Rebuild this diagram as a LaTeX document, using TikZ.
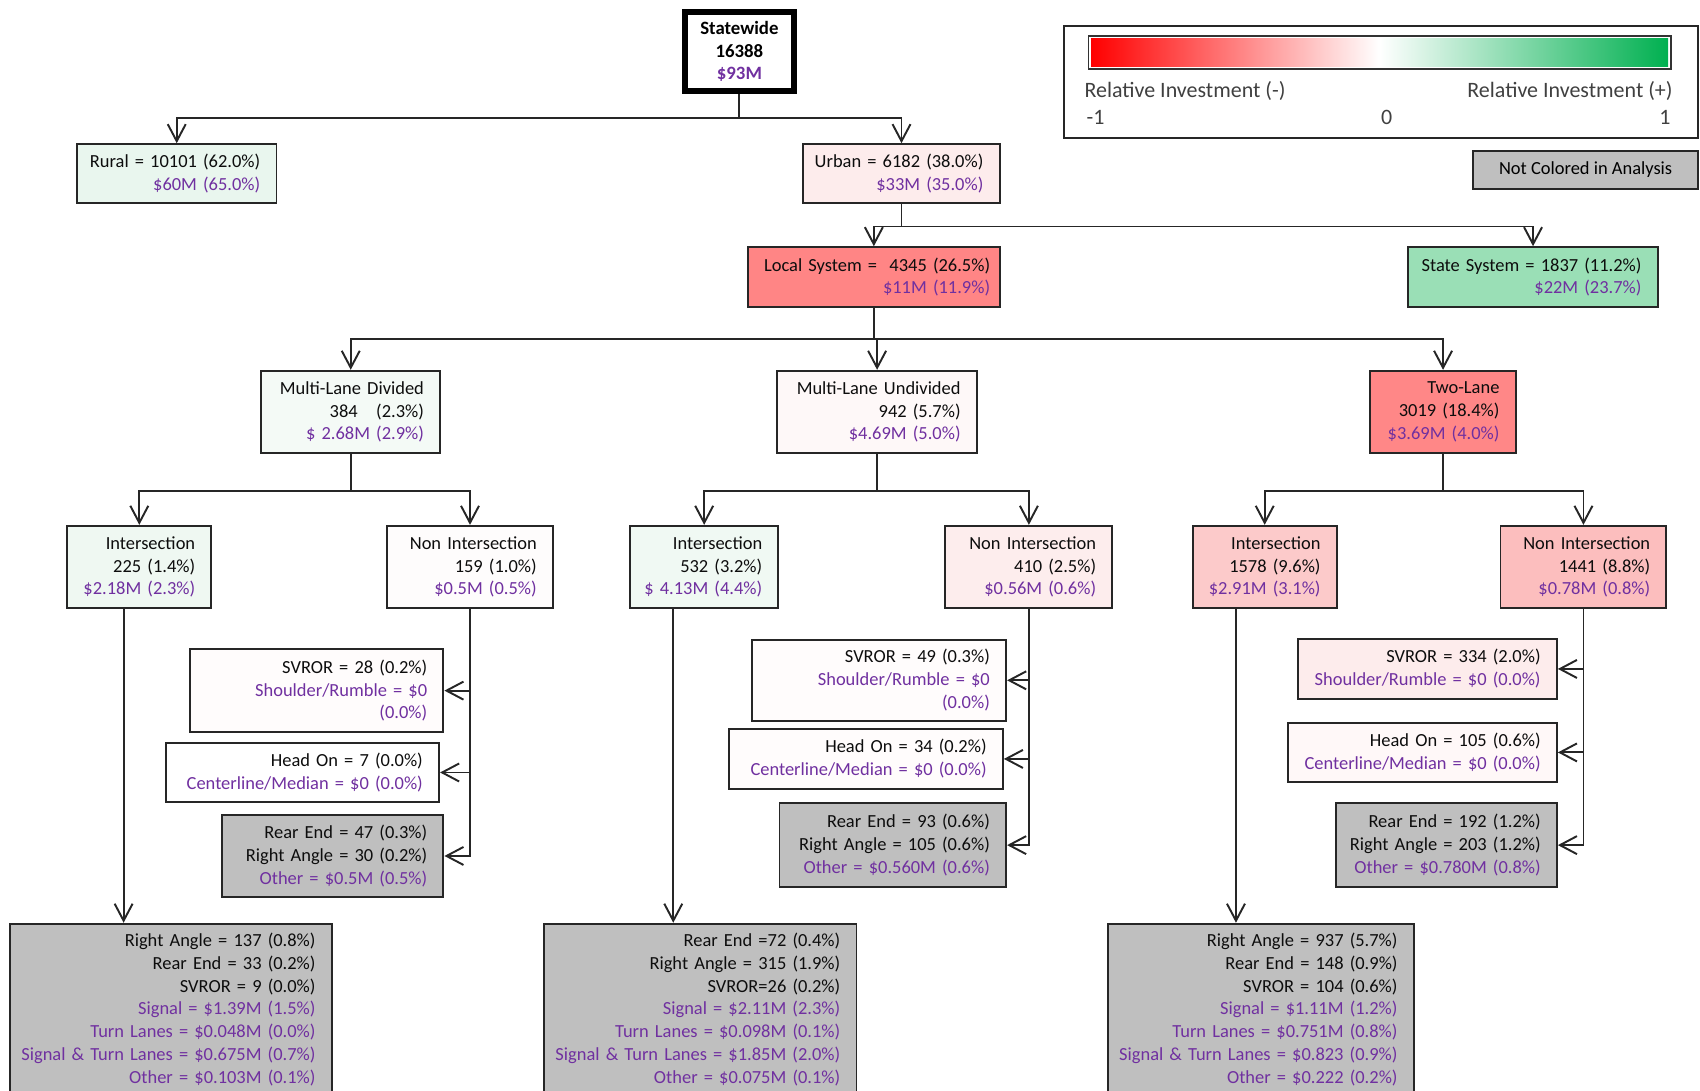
\documentclass[tikz,border=0pt]{standalone}
\usepackage{fontspec}
\setmainfont{Carlito}
\usepackage{xcolor}
\usepackage{tikz}
\usetikzlibrary{arrows.meta, positioning, calc}

\definecolor{invest}{HTML}{7030A0}
\definecolor{notcol}{HTML}{BFBFBF}
\definecolor{negfull}{HTML}{FF0000}
\definecolor{posfull}{HTML}{00B050}
\definecolor{ruralc}{HTML}{E9F6EE}
\definecolor{urbanc}{HTML}{FDECEC}
\definecolor{localc}{HTML}{FF8585}
\definecolor{statec}{HTML}{9ADFB6}
\definecolor{mldc}{HTML}{F4FAF6}
\definecolor{mluc}{HTML}{FEF8F8}
\definecolor{tlc}{HTML}{FF8787}
\definecolor{mldic}{HTML}{EFF8F2}
\definecolor{mldnc}{HTML}{FEFCFC}
\definecolor{mluic}{HTML}{F0F9F3}
\definecolor{mlunc}{HTML}{FDEDED}
\definecolor{tlic}{HTML}{FCCACA}
\definecolor{tlnc}{HTML}{FCBEBE}
\definecolor{svc}{HTML}{FFFCFC}
\definecolor{tlsvc}{HTML}{FDECEC}
\definecolor{tlhoc}{HTML}{FFF8F8}

\newcommand{\inv}[1]{\textcolor{invest}{#1}}

\begin{document}
\begin{tikzpicture}[
    x=0.021684cm, y=-0.021684cm,
    font=\fontsize{10.5}{13}\selectfont,
    box/.style={rectangle, draw=black!85, line width=1.1pt, align=right,
                inner xsep=0.325cm, inner ysep=0pt, text=black!95,
                execute at begin node={\leftskip=-1.5cm plus 1fil}},
    grey/.style={box, fill=notcol},
    legtext/.style={inner sep=0pt, text=black!75, font=\fontsize{12.5}{15}\selectfont},
    arrow/.style={-{Straight Barb[length=0.34cm, width=0.36cm]}, line width=1.1pt, black!85}
]
    \useasboundingbox (0,0) rectangle (1568,1006);

    % top of the tree
    \node[draw=black, line width=3.5pt, fill=white, align=center, inner sep=0pt,
          minimum width=2.17cm, minimum height=1.58cm,
          font=\fontsize{10.7}{13}\selectfont\bfseries] (sw) at (682,47.5)
          {Statewide\\16388\\\inv{\$93M}};
    \node[box, fill=ruralc, text width=3.34cm, minimum height=1.171cm] (rural) at (163,160)
          {Rural = 10101 (62.0\%)\\\inv{\$60M (65.0\%)}};
    \node[box, fill=urbanc, text width=3.275cm, minimum height=1.171cm] (urban) at (831.5,160)
          {Urban = 6182 (38.0\%)\\\inv{\$33M (35.0\%)}};
    \node[box, fill=localc, inner xsep=0.19cm, text width=4.65cm, minimum height=1.193cm] (local) at (806,255.5)
          {Local System = \ 4345 (26.5\%)\\\inv{\$11M (11.9\%)}};
    \node[box, fill=statec, text width=4.337cm, minimum height=1.193cm] (state) at (1414,255.5)
          {State System = 1837 (11.2\%)\\\inv{\$22M (23.7\%)}};

    % road types
    \node[box, fill=mldc, text width=2.928cm, minimum height=1.648cm] (mld) at (323.5,380)
          {Multi-Lane Divided\\384 \ \ (2.3\%)\\\inv{\$ 2.68M (2.9\%)}};
    \node[box, fill=mluc, text width=3.34cm, minimum height=1.648cm] (mlu) at (809,380)
          {Multi-Lane Undivided\\942 (5.7\%)\\\inv{\$4.69M (5.0\%)}};
    \node[box, fill=tlc, text width=2.256cm, minimum height=1.648cm] (tl) at (1331,380)
          {Two-Lane\\3019 (18.4\%)\\\inv{\$3.69M (4.0\%)}};

    % intersection / non intersection
    \node[box, fill=mldic, text width=2.234cm, minimum height=1.648cm] (mldi) at (128.5,523)
          {Intersection\\225 (1.4\%)\\\inv{\$2.18M (2.3\%)}};
    \node[box, fill=mldnc, text width=2.668cm, minimum height=1.648cm] (mldn) at (433.5,523)
          {Non Intersection\\159 (1.0\%)\\\inv{\$0.5M (0.5\%)}};
    \node[box, fill=mluic, text width=2.321cm, minimum height=1.648cm] (mlui) at (649.5,523)
          {Intersection\\532 (3.2\%)\\\inv{\$ 4.13M (4.4\%)}};
    \node[box, fill=mlunc, text width=2.689cm, minimum height=1.648cm] (mlun) at (949,523)
          {Non Intersection\\410 (2.5\%)\\\inv{\$0.56M (0.6\%)}};
    \node[box, fill=tlic, text width=2.234cm, minimum height=1.648cm] (tli) at (1166.5,523)
          {Intersection\\1578 (9.6\%)\\\inv{\$2.91M (3.1\%)}};
    \node[box, fill=tlnc, text width=2.668cm, minimum height=1.648cm] (tln) at (1460.5,523)
          {Non Intersection\\1441 (8.8\%)\\\inv{\$0.78M (0.8\%)}};

    % crash types, non intersection
    \node[box, fill=svc, text width=4.424cm, minimum height=1.648cm] (mldsv) at (292,637)
          {SVROR = 28 (0.2\%)\\\inv{Shoulder/Rumble = \$0}\\\inv{(0.0\%)}};
    \node[box, fill=white, text width=4.814cm, minimum height=1.193cm] (mldho) at (279,712.5)
          {Head On = 7 (0.0\%)\\\inv{Centerline/Median = \$0 (0.0\%)}};
    \node[grey, text width=3.774cm, minimum height=1.626cm] (mldre) at (307,789.5)
          {Rear End = 47 (0.3\%)\\Right Angle = 30 (0.2\%)\\\inv{Other = \$0.5M (0.5\%)}};

    \node[box, fill=svc, text width=4.424cm, minimum height=1.626cm] (mlusv) at (811,627.5)
          {SVROR = 49 (0.3\%)\\\inv{Shoulder/Rumble = \$0}\\\inv{(0.0\%)}};
    \node[box, fill=svc, text width=4.836cm, minimum height=1.214cm] (mluho) at (798.5,700)
          {Head On = 34 (0.2\%)\\\inv{Centerline/Median = \$0 (0.0\%)}};
    \node[grey, text width=3.882cm, minimum height=1.670cm] (mlure) at (823.5,779.5)
          {Rear End = 93 (0.6\%)\\Right Angle = 105 (0.6\%)\\\inv{Other = \$0.560M (0.6\%)}};

    \node[box, fill=tlsvc, text width=4.532cm, minimum height=1.214cm] (tlsv) at (1316.5,617)
          {SVROR = 334 (2.0\%)\\\inv{Shoulder/Rumble = \$0 (0.0\%)}};
    \node[box, fill=tlhoc, text width=4.728cm, minimum height=1.171cm] (tlho) at (1312,694)
          {Head On = 105 (0.6\%)\\\inv{Centerline/Median = \$0 (0.0\%)}};
    \node[grey, text width=3.774cm, minimum height=1.670cm] (tlre) at (1334,779.5)
          {Rear End = 192 (1.2\%)\\Right Angle = 203 (1.2\%)\\\inv{Other = \$0.780M (0.8\%)}};

    % crash types, intersection
    \node[grey, text width=5.79cm, minimum height=3.426cm] (mldb) at (157.5,931)
          {Right Angle = 137 (0.8\%)\\Rear End = 33 (0.2\%)\\SVROR = 9 (0.0\%)\\
           \inv{Signal = \$1.39M (1.5\%)}\\\inv{Turn Lanes = \$0.048M (0.0\%)}\\
           \inv{Signal \& Turn Lanes = \$0.675M (0.7\%)}\\\inv{Other = \$0.103M (0.1\%)}};
    \node[grey, text width=5.595cm, minimum height=3.426cm] (mlub) at (646,931)
          {Rear End =72 (0.4\%)\\Right Angle = 315 (1.9\%)\\SVROR=26 (0.2\%)\\
           \inv{Signal = \$2.11M (2.3\%)}\\\inv{Turn Lanes = \$0.098M (0.1\%)}\\
           \inv{Signal \& Turn Lanes = \$1.85M (2.0\%)}\\\inv{Other = \$0.075M (0.1\%)}};
    \node[grey, text width=5.465cm, minimum height=3.426cm] (tlb) at (1163,931)
          {Right Angle = 937 (5.7\%)\\Rear End = 148 (0.9\%)\\SVROR = 104 (0.6\%)\\
           \inv{Signal = \$1.11M (1.2\%)}\\\inv{Turn Lanes = \$0.751M (0.8\%)}\\
           \inv{Signal \& Turn Lanes = \$0.823 (0.9\%)}\\\inv{Other = \$0.222 (0.2\%)}};

    % legend
    \node[draw=black!85, line width=1.1pt, minimum width=12.685cm, minimum height=2.233cm, inner sep=0pt] (legend) at (1273.5,75.5) {};
    \node[draw=black!80, line width=1.1pt, minimum width=11.644cm, minimum height=0.672cm, inner sep=0pt] (bar) at (1272.5,48.5) {};
    \fill[left color=negfull, right color=posfull, middle color=white]
        ([shift={(0.07cm,-0.07cm)}]bar.north west) rectangle ([shift={(-0.07cm,0.07cm)}]bar.south east);
    \node[legtext, anchor=west] (lneg) at (1000,84) {Relative Investment (-)};
    \node[legtext, anchor=east] (lpos) at (1543,84) {Relative Investment (+)};
    \node[legtext, anchor=west] (lmin) at (1002,108) {-1};
    \node[legtext] (lzero) at (1279,108) {0};
    \node[legtext, anchor=east] (lmax) at (1541,108) {1};
    \node[draw=black!85, line width=1.1pt, fill=notcol, minimum width=4.489cm, minimum height=0.759cm, inner sep=0pt] (nocol) at (1462.5,156.5)
          {Not Colored in Analysis};

    % connectors
    \draw[arrow] (sw.south) -- ++(0,22) -| (rural.north);
    \draw[arrow] (sw.south) -- ++(0,22) -| (urban.north);
    \draw[arrow] (urban.south) -- ++(0,21) -| (local.north);
    \draw[arrow] (urban.south) -- ++(0,21) -| (state.north);
    \draw[arrow] (local.south) -- ++(0,29) -| (mld.north);
    \draw[arrow] (local.south) -- ++(0,29) -| (mlu.north);
    \draw[arrow] (local.south) -- ++(0,29) -| (tl.north);
    \draw[arrow] (mld.south) -- ++(0,34) -| (mldi.north);
    \draw[arrow] (mld.south) -- ++(0,34) -| (mldn.north);
    \draw[arrow] (mlu.south) -- ++(0,34) -| (mlui.north);
    \draw[arrow] (mlu.south) -- ++(0,34) -| (mlun.north);
    \draw[arrow] (tl.south) -- ++(0,34) -| (tli.north);
    \draw[arrow] (tl.south) -- ++(0,34) -| (tln.north);

    \draw[arrow] (mldn.south) |- (mldsv.east);
    \draw[arrow] (mldn.south) |- (mldho.east);
    \draw[arrow] (mldn.south) |- (mldre.east);
    \draw[arrow] (mlun.south) |- (mlusv.east);
    \draw[arrow] (mlun.south) |- (mluho.east);
    \draw[arrow] (mlun.south) |- (mlure.east);
    \draw[arrow] (tln.south) |- (tlsv.east);
    \draw[arrow] (tln.south) |- (tlho.east);
    \draw[arrow] (tln.south) |- (tlre.east);

    \draw[arrow] ([xshift=-0.314cm]mldi.south) coordinate (ti1) -- (ti1 |- mldb.north);
    \draw[arrow] ([xshift=-0.618cm]mlui.south) coordinate (ti2) -- (ti2 |- mlub.north);
    \draw[arrow] ([xshift=-0.575cm]tli.south) coordinate (ti3) -- (ti3 |- tlb.north);
\end{tikzpicture}
\end{document}
